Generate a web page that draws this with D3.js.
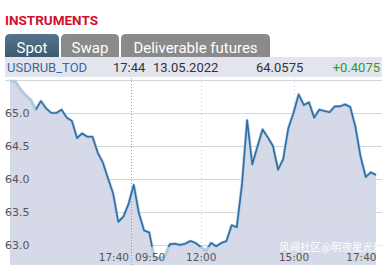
<!DOCTYPE html>
<html>
<head>
<meta charset="utf-8">
<script src="https://cdn.jsdelivr.net/npm/d3@7"></script>
<style>
  body { margin: 0; background: #fff; }
  svg { display: block; }
</style>
</head>
<body>
<svg id="chart"></svg>
<script>
// previous day, 13:50 .. 17:40, 10 min steps
var prevDayValues = [65.48, 65.48, 65.36, 65.27, 65.20, 65.05, 65.18, 65.07, 65.00, 65.00,
  65.05, 64.93, 64.88, 64.62, 64.69, 64.64, 64.64, 64.40, 64.25, 64.01,
  63.78, 63.35, 63.43, 63.62];
// 13.05.2022, 09:50 .. 17:40
var dayValues = [63.91, 63.48, 63.22, 63.19, 62.80, 62.80, 62.82, 63.01, 63.02, 63.00,
  63.02, 63.06, 63.03, 62.97, 62.91, 63.03, 62.98, 63.03, 63.06, 63.30,
  63.27, 63.91, 64.89, 64.22, 64.49, 64.75, 64.63, 64.50, 64.14, 64.30,
  64.77, 65.00, 65.28, 65.12, 65.16, 64.93, 65.05, 65.03, 65.01, 65.10,
  65.10, 65.13, 65.09, 64.79, 64.34, 64.03, 64.10, 64.06];

var yTicks = [63.0, 63.5, 64.0, 64.5, 65.0, 65.5];
var xTickIdx = [23, 24, 37, 55, 71];
var xTickLabels = ["17:40", "09:50", "12:00", "15:00", "17:40"];

var tabs = ["Spot", "Swap", "Deliverable futures"];
var quote = { ticker: "USDRUB_TOD", time: "17:44", date: "13.05.2022", last: "64.0575", change: "+0.4075" };
var watermark = "风闻社区@明夜星光灿烂";

var values = prevDayValues.concat(dayValues);

var W = 392, H = 265;
var svg = d3.select("#chart").attr("width", W).attr("height", H);
var uiFont = "Roboto, 'Liberation Sans', sans-serif";
var axFont = "'DejaVu Sans', sans-serif";

// header
svg.append("text")
  .attr("x", 5).attr("y", 25)
  .attr("fill", "#d0112b")
  .attr("font-family", uiFont)
  .attr("font-weight", "bold")
  .attr("font-size", 13.5)
  .text("INSTRUMENTS");

var defs = svg.append("defs");
var grad = defs.append("linearGradient").attr("id", "spotGrad")
  .attr("x1", 0).attr("y1", 0).attr("x2", 0).attr("y2", 1);
grad.append("stop").attr("offset", "0%").attr("stop-color", "#56758c");
grad.append("stop").attr("offset", "100%").attr("stop-color", "#3d5c73");

var tabX = [5, 61, 121];
var tabW = [54, 58, 149];
var tabTop = 34, tabBot = 57, r = 5;
tabs.forEach(function(t, i)
{
  var x0 = tabX[i], x1 = tabX[i] + tabW[i];
  var p = "M" + x0 + "," + tabBot + "V" + (tabTop + r) +
    "Q" + x0 + "," + tabTop + " " + (x0 + r) + "," + tabTop +
    "H" + (x1 - r) + "Q" + x1 + "," + tabTop + " " + x1 + "," + (tabTop + r) +
    "V" + tabBot + "Z";
  svg.append("path").attr("d", p)
    .attr("fill", i == 0 ? "url(#spotGrad)" : "#8a8a8a");
  svg.append("text")
    .attr("x", x0 + tabW[i] / 2).attr("y", 53)
    .attr("text-anchor", "middle")
    .attr("fill", "#fff")
    .attr("font-family", uiFont)
    .attr("font-size", 15)
    .text(t);
});

// quote row
svg.append("rect").attr("x", 5).attr("y", 57).attr("width", 377).attr("height", 20)
  .attr("fill", "#e2e5ee");
var row = svg.append("g").attr("font-family", uiFont).attr("font-size", 13);
row.append("text").attr("x", 7).attr("y", 72).attr("fill", "#3a6a9c").text(quote.ticker);
row.append("text").attr("x", 113).attr("y", 72).attr("fill", "#333").text(quote.time);
row.append("text").attr("x", 153).attr("y", 72).attr("fill", "#333").text(quote.date);
row.append("text").attr("x", 256).attr("y", 72).attr("fill", "#333").text(quote.last);
row.append("text").attr("x", 380).attr("y", 72).attr("text-anchor", "end").attr("fill", "#2a9a2a").text(quote.change);

// chart
var plotBottom = 265;
var x = d3.scaleLinear().domain([0, values.length - 1]).range([10, 376]);
var y = d3.scaleLinear().domain([63, 65.5]).range([245, 80]);

var plot = svg.append("g");

var area = d3.area()
  .x(function(d, i) { return x(i); })
  .y0(plotBottom)
  .y1(function(d) { return y(d); });
plot.append("path").datum(values)
  .attr("d", area)
  .attr("fill", "#d6d9e7");

// horizontal grid
plot.append("g").selectAll("line")
  .data(yTicks)
  .enter()
  .append("line")
  .attr("x1", 5).attr("x2", 382)
  .attr("y1", function(d) { return y(d) + 0.5; })
  .attr("y2", function(d) { return y(d) + 0.5; })
  .attr("stroke", "#d4d6de")
  .attr("stroke-width", 1);

// vertical dotted lines
plot.append("g").selectAll("line")
  .data(xTickIdx.slice(2, 4))
  .enter()
  .append("line")
  .attr("x1", function(d) { return Math.round(x(d)) + 0.5; })
  .attr("x2", function(d) { return Math.round(x(d)) + 0.5; })
  .attr("y1", 78).attr("y2", plotBottom)
  .attr("stroke", "#c9cbd3")
  .attr("stroke-dasharray", "1,3");
var sepX = Math.round(x(23.5)) + 0.5;
plot.append("line")
  .attr("x1", sepX).attr("x2", sepX).attr("y1", 78).attr("y2", plotBottom)
  .attr("stroke", "#9a9ca4")
  .attr("stroke-dasharray", "1,2");

var line = d3.line()
  .x(function(d, i) { return x(i); })
  .y(function(d) { return y(d); });

// faint halo everywhere, dark line in the clipped region
plot.append("path").datum(values)
  .attr("d", line)
  .attr("fill", "none")
  .attr("stroke", "#b3c9df")
  .attr("stroke-width", 3)
  .attr("stroke-linejoin", "round");

defs.append("clipPath").attr("id", "lineClip")
  .append("rect")
  .attr("x", x(5)).attr("y", 0)
  .attr("width", W).attr("height", y(62.97));
plot.append("path").datum(values)
  .attr("d", line)
  .attr("clip-path", "url(#lineClip)")
  .attr("fill", "none")
  .attr("stroke", "#2c6ea6")
  .attr("stroke-width", 1.6)
  .attr("stroke-linejoin", "round");

// y labels
var yAxis = d3.axisRight(y)
  .tickValues(yTicks.filter(function(d) { return d < 65.5; }))
  .tickSize(0)
  .tickFormat(d3.format(".1f"));
var yg = svg.append("g").attr("transform", "translate(3,0)").call(yAxis);
yg.select(".domain").remove();
yg.selectAll("text")
  .attr("x", 2)
  .attr("fill", "#555")
  .attr("font-family", axFont)
  .attr("font-size", 11);

// x labels
var xAxis = d3.axisBottom(x)
  .tickValues(xTickIdx)
  .tickSize(0)
  .tickFormat(function(d, i) { return xTickLabels[i]; });
var xg = svg.append("g").attr("transform", "translate(0,251)").call(xAxis);
xg.select(".domain").remove();
xg.selectAll("text")
  .attr("fill", "#555")
  .attr("font-family", axFont)
  .attr("font-size", 10.5)
  .attr("text-anchor", function(d, i)
  {
    if (i == 0 || i == xTickIdx.length - 1) return "end";
    if (i == 1) return "start";
    return "middle";
  })
  .attr("dx", function(d, i)
  {
    if (i == 0) return (sepX - 3 - x(d)) + "px";
    if (i == 1) return (sepX + 3 - x(d)) + "px";
    return 0;
  });

// watermark
svg.append("text")
  .attr("x", 279).attr("y", 251)
  .attr("fill", "#fff")
  .attr("font-family", "'Noto Sans CJK SC', sans-serif")
  .attr("font-size", 10.5)
  .text(watermark);
</script>
</body>
</html>
